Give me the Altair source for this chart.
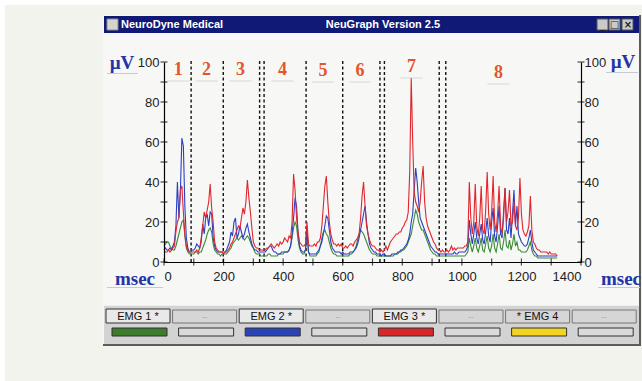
import altair as alt
import pandas as pd

# ---------------- data ----------------
TIME_MS = list(range(0, 1325, 5))

EMG1 = [  # green
    8, 9, 10, 10, 8, 7, 6, 6, 8, 11, 14, 17, 20, 21, 13, 7, 5, 4, 4, 4,
    4, 5, 5, 4, 5, 5, 7, 9, 11, 14, 16, 17, 15, 9, 6, 5, 4, 4, 3, 4,
    4, 4, 4, 5, 6, 7, 9, 10, 11, 12, 11, 12, 13, 12, 11, 12, 13, 12, 10, 8,
    7, 5, 4, 4, 4, 3, 3, 3, 3, 3, 4, 4, 3, 3, 3, 3, 3, 4, 4, 4,
    4, 5, 5, 5, 6, 8, 12, 17, 20, 18, 11, 7, 5, 4, 4, 6, 17, 5, 3, 3,
    3, 3, 3, 4, 5, 8, 12, 15, 16, 14, 13, 10, 7, 5, 4, 4, 3, 3, 3, 3,
    3, 3, 3, 3, 3, 4, 4, 5, 6, 8, 11, 14, 16, 15, 14, 12, 10, 8, 6, 5,
    4, 4, 4, 3, 3, 3, 3, 3, 3, 3, 3, 3, 3, 3, 3, 4, 4, 4, 5, 5,
    6, 6, 7, 8, 10, 12, 14, 18, 22, 26, 24, 20, 18, 16, 16, 14, 12, 10, 8, 6,
    5, 4, 4, 3, 3, 3, 3, 3, 3, 3, 3, 3, 3, 3, 3, 3, 3, 3, 3, 3,
    3, 3, 3, 4, 5, 12, 8, 5, 8, 12, 7, 5, 8, 12, 6, 5, 9, 13, 7, 5,
    8, 14, 7, 5, 9, 14, 7, 6, 10, 16, 8, 7, 11, 6, 9, 14, 8, 10, 6, 6,
    5, 5, 5, 5, 6, 8, 10, 6, 4, 3, 3, 2, 2, 2, 2, 2, 2, 2, 2, 2, 2, 2, 2, 2, 2,
]
EMG2 = [  # blue
    6, 7, 6, 6, 7, 6, 8, 10, 18, 40, 22, 35, 62, 58, 28, 12, 7, 5, 5, 6,
    6, 7, 9, 8, 7, 10, 19, 14, 22, 24, 18, 25, 24, 12, 8, 6, 5, 5, 5, 5,
    5, 5, 6, 8, 10, 15, 13, 20, 22, 12, 14, 18, 15, 12, 14, 17, 19, 15, 12, 9,
    7, 6, 6, 5, 5, 5, 5, 5, 5, 6, 7, 8, 8, 6, 5, 5, 4, 4, 4, 5,
    5, 5, 5, 5, 6, 8, 14, 22, 32, 28, 15, 8, 6, 5, 5, 6, 16, 5, 4, 4,
    4, 4, 4, 5, 6, 8, 10, 14, 18, 23, 22, 16, 10, 7, 6, 5, 5, 5, 5, 4,
    5, 4, 4, 4, 4, 5, 5, 5, 6, 7, 9, 12, 16, 20, 24, 28, 20, 14, 9, 7,
    6, 5, 5, 4, 4, 4, 3, 4, 4, 3, 3, 3, 3, 4, 4, 4, 4, 5, 5, 6,
    6, 7, 8, 9, 11, 14, 20, 24, 36, 47, 40, 30, 22, 20, 18, 16, 14, 12, 10, 8,
    7, 6, 5, 5, 4, 4, 4, 4, 4, 4, 4, 4, 4, 4, 4, 5, 4, 4, 5, 5,
    5, 5, 5, 6, 8, 21, 14, 9, 14, 20, 12, 9, 14, 19, 11, 9, 15, 22, 13, 10,
    20, 27, 13, 10, 18, 28, 14, 12, 25, 37, 16, 14, 22, 12, 24, 36, 18, 28, 14, 12,
    10, 9, 8, 8, 9, 12, 16, 10, 6, 5, 4, 3, 3, 3, 3, 3, 3, 3, 3, 3, 3, 3, 3, 3, 3,
]
EMG3 = [  # red
    5, 5, 5, 6, 5, 6, 7, 8, 15, 20, 22, 36, 38, 25, 14, 8, 6, 5, 5, 5,
    5, 5, 6, 5, 7, 12, 18, 25, 22, 26, 30, 39, 27, 20, 10, 7, 6, 5, 5, 5,
    4, 5, 5, 6, 7, 9, 10, 12, 14, 16, 18, 17, 22, 27, 24, 30, 41, 32, 25, 17,
    10, 8, 7, 7, 6, 6, 6, 6, 6, 7, 7, 8, 9, 8, 7, 8, 9, 8, 10, 9,
    10, 12, 11, 10, 13, 12, 20, 44, 36, 22, 15, 10, 9, 8, 8, 9, 20, 9, 8, 8,
    8, 9, 8, 10, 10, 12, 18, 28, 38, 43, 30, 20, 14, 11, 9, 9, 8, 9, 8, 9,
    7, 7, 8, 7, 8, 9, 9, 8, 10, 11, 12, 14, 22, 33, 40, 28, 18, 14, 11, 9,
    8, 8, 7, 6, 6, 5, 6, 5, 6, 8, 6, 8, 10, 11, 12, 13, 14, 14, 15, 15,
    17, 18, 20, 21, 25, 45, 92, 60, 35, 30, 28, 25, 30, 40, 48, 30, 22, 18, 16, 14,
    12, 10, 9, 7, 6, 6, 5, 6, 5, 5, 6, 5, 6, 8, 6, 7, 6, 7, 7, 7,
    7, 7, 8, 8, 10, 40, 22, 14, 20, 39, 18, 13, 22, 38, 16, 14, 26, 45, 24, 16,
    25, 43, 20, 15, 24, 38, 18, 14, 22, 37, 20, 25, 36, 18, 20, 30, 18, 16, 22, 42,
    24, 16, 14, 13, 15, 18, 33, 16, 10, 9, 7, 6, 6, 5, 5, 5, 5, 5, 4, 5, 4, 4, 4, 4, 3,
]
SERIES_NAMES = ["EMG 1", "EMG 2", "EMG 3"]
SERIES_COLORS = ["#3b8a36", "#2a3fc4", "#e0262c"]

PHASE_LABELS = ["1", "2", "3", "4", "5", "6", "7", "8"]
PHASE_X = [48, 143, 257, 398, 534, 658, 831, 1123]
PHASE_Y = [96, 96, 96, 96, 95.5, 95.5, 97.5, 94.5]
BOUNDARIES = [91, 199, 321, 336, 477, 600, 725, 740, 924, 946]
Y_TICKS = list(range(0, 101, 10))
Y_LABELS = list(range(0, 101, 20))
X_TICKS = list(range(0, 1401, 100))
X_LABELS = list(range(0, 1401, 200))

WINDOW_TITLE = "NeuroDyne Medical"
APP_TITLE = "NeuGraph Version 2.5"
TAB_LABELS = ["EMG 1 *", "--", "EMG 2 *", "--", "EMG 3 *", "--", "* EMG 4", "--"]
TAB_SELECTED = [True, False, True, False, True, False, False, False]
SWATCH_COLORS = ["#3f7d2e", "#dadada", "#2a43b5", "#dadada", "#d8282a", "#dadada", "#f2d421", "#dadada"]

# ---------------- layout ----------------
PAGE_W, PAGE_H = 642, 381
OX, OY = 164, 62          # plot-area origin in the page
W, H = 417, 200           # plot-area size

DUMMY = pd.DataFrame({"d": [0]})
deco = []

def add_rect(x1, y1, x2, y2, fill, stroke=None, sw=0):
    kw = dict(fill=fill)
    if stroke:
        kw.update(stroke=stroke, strokeWidth=sw)
    deco.append(alt.Chart(DUMMY).mark_rect(**kw).encode(
        x=alt.value(x1 - OX), x2=alt.value(x2 - OX),
        y=alt.value(y1 - OY), y2=alt.value(y2 - OY)))

def add_text(x, y, t, **style):
    deco.append(alt.Chart(DUMMY).mark_text(baseline="middle", **style).encode(
        x=alt.value(x - OX), y=alt.value(y - OY), text=alt.value(t)))

add_rect(0, 0, PAGE_W, 5, "#ffffff")
add_rect(0, 0, 5, PAGE_H, "#ffffff")
add_rect(103, 15, 641, 346, "#f7f7f5")
add_rect(639, 15, 641, 346, "#5c5c5c")
add_rect(103, 344, 641, 346, "#5c5c5c")
add_rect(104, 16, 639, 33, "#101a76")
add_rect(107, 19, 118, 30, "#d4d4cc", "#8a8a8a", 1)
for bx in (597, 609, 622):
    add_rect(bx, 19, bx + 11, 30, "#cacaca", "#555555", 1)
add_rect(104, 305, 639, 344, "#d3d3d3")
add_rect(104, 305, 639, 306, "#eeeeee")
for i, lab in enumerate(TAB_LABELS):
    x0 = 106 + 66.6 * i
    if TAB_SELECTED[i]:
        add_rect(x0, 309, x0 + 64, 323, "#e9e9e9", "#333333", 1)
    else:
        add_rect(x0, 310, x0 + 64, 323, "#d6d6d6", "#777777", 1)
    add_rect(112 + 66.6 * i, 328, 112 + 66.6 * i + 55, 336, SWATCH_COLORS[i], "#333333", 1)
    if lab == "--":
        add_text(x0 + 32, 316.5, lab, align="center", font="Liberation Sans", fontSize=8, color="#9a9a9a")
    else:
        add_text(x0 + 32, 316.5, lab, align="center", font="Liberation Sans", fontSize=11, color="#111111")

# underline "shadows" of the unit labels
add_rect(107, 73, 138, 74, "#c6c9d6")
add_rect(606, 72, 638, 73, "#c6c9d6")
add_rect(107, 287, 163, 288, "#c6c9d6")
add_rect(598, 287, 640, 288, "#c6c9d6")

add_text(121, 25, WINDOW_TITLE, align="left", font="Liberation Sans", fontWeight="bold",
         fontSize=11, color="#ffffff")
add_text(383, 25, APP_TITLE, align="center", font="Liberation Sans", fontWeight="bold",
         fontSize=11, color="#ffffff")
for gx, g in ((602.5, "_"), (614.5, "□"), (628, "×")):
    add_text(gx, 24.5, g, align="center", font="DejaVu Sans", fontWeight="bold", fontSize=10, color="#222222")
for ux, uy, ut in ((122, 63, "µV"), (623, 62, "µV"), (135, 279, "msec"), (621, 279, "msec")):
    add_text(ux, uy, ut, align="center", font="Liberation Serif", fontWeight="bold",
             fontSize=19, color="#2433a8")

# ---------------- plot layers ----------------
xscale = alt.Scale(domain=[0, 1400], nice=False, zero=False)
yscale = alt.Scale(domain=[0, 100], nice=False)
axis_common = dict(labelFont="Liberation Sans", labelFontSize=13, labelColor="#222222",
                   grid=False, ticks=False, domainColor="#000000", domainWidth=1.2, title=None,
                   zindex=2)
xaxis = alt.Axis(values=X_LABELS, labelFlush=True, labelPadding=8, format="d", **axis_common)
yaxis_left = alt.Axis(values=Y_LABELS, orient="left", labelPadding=5, format="d", **axis_common)
yaxis_right = alt.Axis(values=Y_LABELS, orient="right", labelPadding=3, format="d", **axis_common)

bound_df = pd.DataFrame({"t": BOUNDARIES})
dashed = alt.Chart(bound_df).mark_rule(color="#111111", strokeWidth=1.4, strokeDash=[3, 2.5]).encode(
    x=alt.X("t:Q", scale=xscale, axis=xaxis),
    y=alt.value(-1), y2=alt.value(H),
)

def line_layer(values, name, color, axis):
    df = pd.DataFrame({"t": TIME_MS, "v": values, "s": name})
    return alt.Chart(df).mark_line(color=color, strokeWidth=1.1, interpolate="linear").encode(
        x=alt.X("t:Q", scale=xscale, axis=xaxis),
        y=alt.Y("v:Q", scale=yscale, axis=axis),
    )

green = line_layer(EMG1, SERIES_NAMES[0], SERIES_COLORS[0], yaxis_left)
blue = line_layer(EMG2, SERIES_NAMES[1], SERIES_COLORS[1], None)
red = line_layer(EMG3, SERIES_NAMES[2], SERIES_COLORS[2], None)

yr_df = pd.DataFrame({"t": [1400] * len(Y_TICKS), "v": Y_TICKS})
yl_df = pd.DataFrame({"t": [0] * len(Y_TICKS), "v": Y_TICKS})
ytick_right = alt.Chart(yr_df).mark_tick(
    orient="horizontal", size=7, thickness=1.2, color="#000000").encode(
    x=alt.X("t:Q", scale=xscale, axis=xaxis), y=alt.Y("v:Q", scale=yscale, axis=yaxis_right))
ytick_left = alt.Chart(yl_df).mark_tick(
    orient="horizontal", size=7, thickness=1.2, color="#000000").encode(
    x=alt.X("t:Q", scale=xscale, axis=xaxis), y=alt.Y("v:Q", scale=yscale, axis=None))
xtick_df = pd.DataFrame({"t": X_TICKS, "v": [0] * len(X_TICKS)})
xtick = alt.Chart(xtick_df).mark_tick(orient="vertical", size=7, thickness=1.2, color="#000000").encode(
    x=alt.X("t:Q", scale=xscale, axis=xaxis), y=alt.Y("v:Q", scale=yscale, axis=None))

phase_df = pd.DataFrame({"t": PHASE_X, "v": PHASE_Y, "lab": PHASE_LABELS})
phase_under = alt.Chart(phase_df).mark_tick(orient="horizontal", size=22, thickness=1,
                                            color="#c6c9d6", yOffset=11).encode(
    x=alt.X("t:Q", scale=xscale, axis=xaxis), y=alt.Y("v:Q", scale=yscale, axis=None))
phase_text = alt.Chart(phase_df).mark_text(font="Liberation Serif", fontWeight="bold", fontSize=18,
                                           color="#e2562c", baseline="middle").encode(
    x=alt.X("t:Q", scale=xscale, axis=xaxis), y=alt.Y("v:Q", scale=yscale, axis=None), text="lab:N")

chart = alt.layer(
    *deco, dashed, green, blue, red, ytick_left, ytick_right, xtick, phase_under, phase_text,
).resolve_axis(y="independent").properties(
    width=W, height=H,
    padding={"left": OX, "top": OY, "right": PAGE_W - OX - W, "bottom": PAGE_H - OY - H},
    autosize=alt.AutoSizeParams(type="none"),
    background="#f3f3ee",
).configure_view(stroke=None)

chart.save("out.html", embed_options={"renderer": "svg", "actions": False})
